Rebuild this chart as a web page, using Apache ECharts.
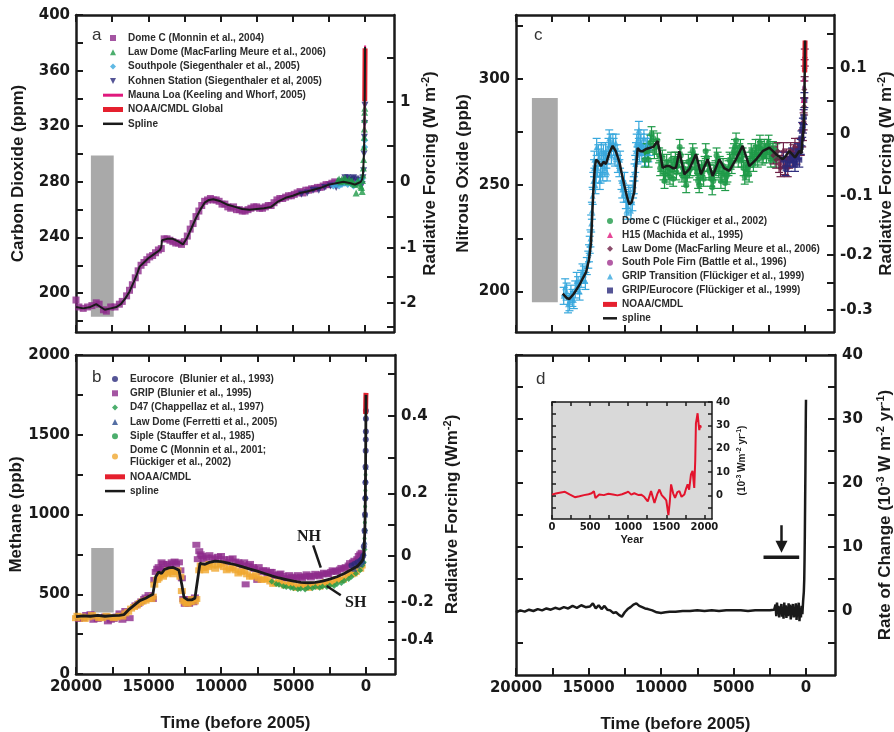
<!DOCTYPE html>
<html><head><meta charset="utf-8">
<script src="https://cdn.jsdelivr.net/npm/echarts@6/dist/echarts.min.js"></script>
<style>html,body{margin:0;padding:0;background:#fff}#c{width:894px;height:732px}</style>
</head><body><div id="c"></div>
<script>
// ---------- tick labels ----------
const timeTicks=[0,2500,5000,7500,10000,12500,15000,17500,20000];
const timeLabels=[0,5000,10000,15000,20000];
const co2Ticks=[180,200,220,240,260,280,300,320,340,360,380,400];
const co2Labels=[200,240,280,320,360,400];
const co2RfLabels=['-2','-1','0','1'];
const co2RfLabelPpm=[192.7,232.3,280,337.5];
const co2RfTickPpm=[175.5,192.7,211.7,232.3,255.1,280,306.2,337.5,369.0];
const ch4Ticks=[0,250,500,750,1000,1250,1500,1750,2000];
const ch4Labels=[0,500,1000,1500,2000];
const ch4RfLabels=['-0.4','-0.2','0','0.2','0.4'];
const ch4RfLabelPpb=[214,453,742,1132,1616];
const ch4RfTickPpb=[94,214,327,453,585,742,937,1132,1358,1616,1880];
const n2oTicks=[200,225,250,275,300,325];
const n2oLabels=[200,250,300];
const n2oRfLabels=['-0.3','-0.2','-0.1','0','0.1'];
const n2oRfLabelPpb=[191.3,217.3,244.9,274.2,305.1];
const n2oRfTickPpb=[191.3,204.1,217.3,230.9,244.9,259.3,274.2,289.5,305.1,321.2];
const rateTicks=[-5,0,5,10,15,20,25,30,35,40];
const rateLabels=[0,10,20,30,40];
const insetYearTicks=[0,250,500,750,1000,1250,1500,1750,2000];
const insetYearLabels=[0,500,1000,1500,2000];
const insetRateTicks=[-5,0,5,10,15,20,25,30,35,40];
const insetRateLabels=[0,10,20,30,40];

// ---------- panel a : CO2 ----------
const co2Range=[[18970,17390,183,299]];
const co2DomeC=[[20000,195],[19800,190],[19500,189],[19200,190],[18900,191],[18600,193],[18400,192],[18100,188],[17900,187],[17600,190],[17300,190],[17000,192],[16800,194],[16500,198],[16300,202],[16100,206],[15900,211],[15700,216],[15500,220],[15300,222],[15100,224],[14900,226],[14700,227],[14500,229],[14300,231],[14100,232],[13900,239],[13700,239],[13500,238],[13300,237],[13100,236],[12900,236],[12700,235],[12500,237],[12300,241],[12100,246],[11900,250],[11700,255],[11500,259],[11300,263],[11100,266],[10900,267],[10700,268],[10500,267],[10300,267],[10100,266],[9900,264],[9700,264],[9500,262],[9300,261],[9100,262],[8900,260],[8700,260],[8500,259],[8300,259],[8100,260],[7900,261],[7700,262],[7500,262],[7300,261],[7100,261],[6900,262],[6700,263],[6500,263],[6300,265],[6100,267],[5900,268],[5700,268],[5500,269],[5300,270],[5100,270],[4900,271],[4700,272],[4500,273],[4300,272],[4100,274],[3900,274],[3700,275],[3500,275],[3300,276],[3100,276],[2900,277],[2700,278],[2500,278],[2300,279],[2100,280],[1900,279],[1700,280],[1500,280],[1300,281],[1100,281],[900,280],[700,280]];
const co2LawDome=[[1900,281],[1800,282],[1700,280],[1600,282],[1500,281],[1400,283],[1300,281],[1200,280],[1100,282],[1000,280],[900,281],[800,279],[700,278],[620,272],[500,281],[400,279],[300,277],[250,276],[200,273],[180,281],[150,285],[120,290],[100,296],[80,305],[60,312],[50,318],[40,325],[30,330],[20,333]];
const co2SouthPole=[[2200,277],[2000,278],[1800,277],[1600,278],[1400,279],[1200,278],[1000,279],[800,277],[600,279],[400,280],[200,282],[30,305],[20,310]];
const co2Kohnen=[[4400,271],[4000,272],[3600,274],[3200,274],[2800,276],[2400,277],[2000,276],[1600,279],[1400,283],[1200,283],[1000,282],[900,281],[800,283],[600,282],[500,279],[400,281],[300,280],[200,278],[150,283],[100,288],[70,300],[50,312],[30,322],[10,335]];
const co2MaunaLoa=[[47,315],[40,320],[35,325],[30,331],[25,338],[20,346],[15,354],[10,361],[5,370],[0,378]];
const co2Noaa=[[25,338],[20,345],[15,354],[10,361],[5,368],[0,376]];
const co2Spline=[[20000,190],[19500,189],[19000,190],[18600,192],[18300,190],[18000,188],[17600,189],[17200,190],[16900,192],[16600,196],[16300,201],[16000,208],[15800,213],[15600,219],[15300,222],[15000,225],[14600,228],[14200,231],[14100,233],[14050,238],[13700,239],[13300,239],[12900,237],[12600,235],[12300,240],[12000,247],[11700,254],[11400,260],[11100,265],[10800,267],[10500,267.5],[10000,266],[9500,263.5],[9000,262],[8500,260.5],[8000,260],[7500,260.5],[7000,261],[6500,262],[6000,266],[5500,268.5],[5000,270],[4500,272],[4000,273],[3500,274.5],[3000,276],[2500,278],[2000,279],[1500,280],[1000,279],[700,278],[500,279],[300,280],[200,282],[150,285],[100,295],[80,300],[60,310],[50,315],[40,325],[30,335],[20,345],[10,360],[0,377]];

// ---------- panel b : CH4 ----------
const ch4Range=[[18950,17400,385,790]];
const ch4Grip=[[19800,345],[19500,350],[19300,370],[19000,375],[18800,340],[18500,345],[18300,355],[18000,360],[17800,330],[17600,340],[17400,345],[17200,360],[17000,380],[16800,340],[16600,395],[16300,350],[15900,430],[15700,440],[15500,455],[15300,470],[15200,480],[15000,495],[14800,480],[14700,470],[14600,590],[14500,640],[14400,660],[14300,670],[14200,650],[14100,700],[14000,690],[13900,660],[13700,690],[13500,680],[13400,700],[13200,705],[13100,690],[12900,700],[12800,650],[12700,600],[12600,470],[12500,440],[12400,455],[12300,470],[12200,440],[12100,455],[12000,460],[11900,450],[11800,480],[11700,810],[11600,720],[11500,770],[11400,750],[11300,740],[11200,720],[11000,730],[10800,745],[10600,730],[10400,720],[10200,735],[10000,740],[9800,720],[9600,700],[9400,720],[9200,725],[9000,705],[8800,700],[8700,690],[8500,680],[8400,700],[8300,562],[8100,680],[8000,690],[7800,670],[7700,660],[7500,590],[7400,670],[7200,640],[7100,650],[6900,650],[6800,630],[6600,640],[6500,640],[6300,620],[6200,615],[6000,625],[5900,630],[5700,615],[5600,600],[5400,600],[5300,620],[5100,610],[5000,600],[4800,605],[4700,620],[4500,610],[4400,600],[4200,612],[4100,625],[3900,615],[3800,605],[3600,615],[3500,628],[3300,620],[3200,612],[3000,625],[2900,635],[2700,630],[2600,625],[2400,640],[2300,650],[2100,645],[2000,640],[1800,655],[1700,665],[1500,660],[1400,670],[1200,680],[1100,695],[900,700],[800,710],[600,720],[500,740],[400,750],[300,760]];
const ch4DomeC=[[20000,350],[19900,365],[19600,360],[19400,345],[19200,355],[18900,370],[18700,360],[18400,350],[18200,350],[17900,365],[17700,358],[17400,350],[17200,355],[17000,365],[16800,360],[16600,380],[16400,390],[16200,410],[16000,420],[15800,430],[15600,445],[15400,455],[15200,460],[15000,470],[14800,470],[14700,485],[14600,560],[14400,590],[14300,600],[14200,620],[14000,610],[13900,625],[13700,630],[13600,650],[13400,640],[13300,625],[13100,640],[13000,650],[12800,610],[12700,520],[12600,460],[12500,455],[12400,445],[12300,440],[12100,450],[12000,470],[11800,455],[11700,470],[11500,650],[11400,680],[11200,665],[11100,650],[10900,670],[10800,690],[10600,680],[10400,660],[10200,680],[10000,690],[9800,670],[9600,650],[9400,660],[9200,665],[9000,650],[8800,630],[8600,640],[8400,645],[8200,625],[8000,610],[7800,612],[7600,620],[7400,600],[7200,590],[7000,592],[6800,595],[6600,580],[6400,565],[6200,570],[6000,580],[5800,565],[5600,555],[5400,558],[5200,565],[5000,552],[4800,540],[4600,548],[4400,555],[4200,548],[4000,540],[3800,550],[3600,560],[3400,555],[3200,548],[3000,560],[2800,575],[2600,570],[2400,565],[2200,580],[2000,595],[1800,590],[1600,590],[1400,605],[1200,625],[1000,625],[850,630],[700,640],[550,660],[400,660],[300,680]];
const ch4D47=[[6500,580],[6200,565],[6000,560],[5700,550],[5500,545],[5200,540],[5000,538],[4700,532],[4500,535],[4200,530],[4000,540],[3700,538],[3500,545],[3200,540],[3000,548],[2700,545],[2500,555],[2200,552],[2000,565],[1700,570],[1500,585],[1200,595],[1000,610],[700,630],[400,650],[250,680],[150,700],[100,780],[60,900],[30,1100]];
const ch4Siple=[[200,700],[150,750],[100,850],[80,950],[60,1050],[40,1150],[30,1250]];
const ch4LawDome=[[800,660],[600,680],[400,690],[300,700],[200,710],[150,760],[100,830],[80,900],[60,1000],[40,1120],[30,1220],[20,1300]];
const ch4Eurocore=[[1000,680],[800,690],[600,700],[400,710],[300,720],[200,740],[150,800],[100,900],[70,1000],[50,1100],[40,1200],[30,1300],[20,1400],[15,1470],[10,1520],[8,1600],[5,1650]];
const ch4Noaa=[[25,1630],[20,1680],[15,1710],[10,1735],[5,1750],[0,1762]];
const ch4Spline=[[20000,360],[19500,365],[19000,362],[18500,368],[18000,362],[17500,366],[17000,368],[16700,372],[16400,400],[16000,430],[15600,460],[15200,475],[14900,490],[14700,500],[14500,610],[14300,640],[14100,630],[13900,655],[13600,665],[13300,668],[13100,660],[12900,650],[12700,560],[12550,480],[12300,465],[12000,465],[11800,475],[11600,600],[11450,695],[11300,690],[11100,688],[10800,700],[10400,708],[10000,705],[9500,695],[9000,685],[8500,672],[8000,658],[7500,645],[7000,630],[6500,615],[6000,602],[5500,592],[5000,582],[4500,575],[4000,572],[3500,575],[3000,582],[2500,595],[2000,610],[1500,630],[1000,655],[600,675],[300,705],[200,720],[150,760],[100,850],[80,900],[60,1000],[40,1150],[25,1350],[15,1500],[8,1620],[0,1750]];
const ch4NoteText=['NH','SH'];
const ch4NoteAt=[[3930,862],[710,448]];
const ch4Leaders=[[3640,806,3120,667],[2710,552,1740,494]];

// ---------- panel c : N2O ----------
const n2oRange=[[18900,17110,195,291]];
const n2oGripTrans=[[16700,198],[16600,202],[16500,200],[16400,194],[16300,195],[16200,199],[16100,197],[16000,196],[15900,201],[15800,205],[15700,203],[15600,200],[15500,206],[15400,209],[15300,208],[15200,205],[15100,212],[15000,215],[14950,218],[14900,222],[14850,225],[14800,232],[14750,238],[14700,245],[14650,252],[14600,258],[14580,262],[14500,250],[14450,255],[14420,268],[14350,258],[14300,265],[14250,263],[14200,252],[14150,255],[14100,266],[14050,260],[14000,256],[13950,265],[13900,262],[13850,258],[13800,266],[13750,262],[13700,256],[13600,268],[13550,272],[13450,270],[13400,264],[13300,270],[13250,268],[13150,263],[13100,270],[13000,265],[12950,260],[12850,258],[12800,262],[12700,252],[12650,248],[12550,246],[12500,252],[12400,243],[12350,238],[12250,240],[12200,246],[12100,245],[12050,238],[11950,242],[11900,248],[11850,250],[11800,256],[11750,260],[11700,266],[11650,270],[11600,264],[11550,272],[11500,276],[11450,265],[11400,270],[11350,270],[11300,265],[11200,268],[11150,272],[11050,263],[11000,268],[10900,270],[10850,265],[10750,268]];
const n2oDomeC=[[11100,262],[11025,266],[10900,266],[10825,262],[10700,270],[10625,274],[10500,272],[10425,266],[10300,268],[10225,271],[10100,264],[10025,258],[9950,260],[9875,263],[9800,256],[9725,252],[9650,255],[9575,261],[9500,258],[9425,256],[9350,254],[9275,262],[9200,257],[9125,253],[9050,260],[8975,262],[8900,256],[8825,259],[8750,262],[8675,268],[8600,264],[8525,255],[8450,258],[8375,257],[8300,253],[8225,250],[8150,255],[8075,261],[8000,257],[7925,258],[7850,262],[7775,266],[7700,264],[7625,261],[7550,258],[7475,256],[7400,252],[7325,250],[7250,254],[7175,258],[7100,256],[7025,253],[6950,260],[6875,266],[6800,263],[6725,260],[6650,257],[6575,256],[6500,253],[6425,249],[6350,252],[6275,256],[6200,258],[6125,264],[6050,262],[5975,257],[5900,260],[5825,252],[5750,255],[5675,259],[5600,256],[5525,251],[5450,254],[5375,255],[5300,258],[5225,262],[5150,261],[5075,259],[5000,264],[4925,266],[4850,268],[4775,271],[4700,265],[4625,262],[4550,266],[4475,268],[4400,262],[4325,264],[4250,258],[4175,254],[4100,256],[4025,260],[3950,258],[3875,255],[3800,262],[3725,266],[3650,264],[3575,260],[3500,263],[3425,268],[3350,265],[3275,262],[3200,268],[3125,270],[3050,267],[2975,263],[2900,264],[2825,268],[2750,266],[2675,264],[2600,268],[2525,270],[2450,266],[2375,262],[2300,265],[2225,267],[2150,264],[2075,262],[2000,266]];
const n2oLawDome=[[2200,264],[2000,262],[1900,266],[1800,260],[1700,258],[1600,262],[1500,266],[1400,259],[1300,263],[1200,258],[1100,262],[1000,266],[900,263],[800,265],[700,268],[600,264],[500,266],[400,268],[300,268],[200,272],[150,275],[100,280],[70,287],[50,295],[30,305],[20,310]];
const n2oEurocore=[[1500,262],[1350,258],[1200,260],[1050,262],[900,264],[800,262],[700,260],[600,263],[500,266],[400,262],[300,268],[250,272],[200,276],[150,278],[100,282],[50,290]];
const n2oSouthPole=[[120,285],[90,290],[70,296],[50,300],[40,304],[30,306],[20,310],[10,312]];
const n2oH15=[[100,290],[60,300],[40,305],[20,310]];
const n2oNoaa=[[25,303],[15,310],[5,316],[0,318]];
const n2oSpline=[[16770,199],[16500,197],[16310,196.5],[16000,199],[15620,203],[15400,206],[15160,209],[14950,215],[14810,223],[14700,240],[14650,247],[14550,258],[14465,262],[14300,261],[14120,259],[13950,261],[13774,260],[13550,265],[13313,268.5],[13100,266],[12850,261],[12700,256],[12506,250],[12300,244],[12160,241],[12000,242],[11814,247],[11700,258],[11583,267.5],[11400,266],[11237,266],[11000,267],[10776,267.5],[10500,268],[10200,270.8],[10000,264],[9854,258.2],[9600,259],[9392,259],[9150,258],[8930,258.2],[8700,266],[8355,255.1],[8010,257.5],[7550,264.6],[7200,255.1],[6740,262.2],[6395,254.3],[5933,262.2],[5600,258],[5240,256.7],[4800,262],[4320,268.5],[3860,259],[3400,262],[2936,266],[2474,267.7],[2013,264.6],[1550,262.2],[1300,264],[1090,266.1],[700,263],[400,266.1],[250,265],[170,272.4],[120,275],[80,280],[50,290],[30,300],[15,310],[0,318]];
const n2oErr={gripTrans:4,domeC:3.5,lawDome:4,eurocore:3.5};

// ---------- panel d : rate of change ----------
const rateMain=[[20000,-0.2],[19700,0.1],[19400,-0.1],[19100,0.2],[18800,0],[18500,0.3],[18200,0.1],[17900,0.4],[17600,0.2],[17300,0.5],[17000,0.3],[16700,0.6],[16400,0.4],[16100,0.8],[15800,0.5],[15500,0.9],[15200,0.6],[14900,0.7],[14700,1.2],[14500,0.4],[14300,0.9],[14100,0.3],[13900,0.8],[13700,0.2],[13500,0.1],[13300,-0.3],[13100,-0.2],[12900,-0.6],[12700,-0.9],[12500,-0.2],[12300,0.3],[12100,0.6],[11900,1],[11700,1.2],[11500,0.8],[11300,0.6],[11100,0.4],[10900,0.3],[10600,0.1],[10300,-0.2],[10000,-0.3],[9700,-0.2],[9400,-0.1],[9000,-0.1],[8500,0],[8000,0],[7500,0.1],[7000,0],[6500,0.1],[6000,0],[5500,0.1],[5000,0.1],[4500,0.1],[4000,0],[3500,0.1],[3000,0.1],[2500,0.1],[2200,0.2],[2100,1],[2050,-0.8],[2000,1.3],[1950,-0.5],[1900,0.8],[1850,-1],[1800,0.6],[1750,-0.4],[1700,1.1],[1650,-0.9],[1600,0.5],[1550,-1.2],[1500,1.3],[1450,-0.6],[1400,0.9],[1350,-1.1],[1300,0.7],[1250,-0.8],[1200,1.2],[1150,-0.7],[1100,1],[1050,-1.3],[1000,0.8],[950,-0.5],[900,1.1],[850,-1],[800,0.6],[750,-0.9],[700,1.2],[650,-1.4],[600,0.9],[550,-0.6],[500,1.3],[450,-1.6],[400,0.5],[350,-1],[300,0.8],[250,-0.5],[200,1.5],[150,3],[120,5],[100,8],[80,12],[60,17],[40,22],[25,27],[10,31],[0,33]];
const rateArrow=[[1690,13.4,1690,9.1]];
const rateBar=[[2930,8.4,470,8.4]];
const insetRate=[[0,0.4],[50,0.9],[100,1.2],[170,1.6],[230,0.5],[300,-0.7],[360,-0.3],[420,0.2],[480,0.6],[520,1.0],[550,1.9],[570,-1],[620,0.5],[680,0.2],[740,0.8],[800,0.5],[860,0.1],[920,0.6],[970,1.2],[1000,1.7],[1040,0.4],[1080,1.0],[1130,0.3],[1170,0.4],[1210,-0.5],[1257,-2.5],[1300,1.9],[1345,-3.1],[1380,0.5],[1410,2.6],[1440,0.2],[1475,-1],[1500,-2],[1528,-8.3],[1545,-3],[1563,4.8],[1590,1],[1615,-1],[1645,1.5],[1672,1.9],[1700,-0.5],[1737,0.5],[1760,3],[1780,4.8],[1800,2.5],[1824,9.1],[1845,10.6],[1867,3.3],[1880,15],[1889,30.9],[1900,33],[1911,35.2],[1920,32],[1933,28],[1945,30],[1955,29]];

// ---------- styling ----------
const INK='#1a1a1a', NUM='DejaVu Sans', TXT='Liberation Sans';
const C={purple:'#8d2a8b',green:'#1f9a48',cyan:'#38a8dd',navy:'#2b2a7c',magenta:'#e0197d',red:'#e5202e',orange:'#f0a830',blueTri:'#2a4b8d',maroon:'#6e2147',spPurple:'#a0338f',gray:'#a9a9a9',insetBg:'#d9d9d9',insetRed:'#e3142d'};
const SQ='path://M0,0L10,0L10,10L0,10Z', TRI='path://M5,0L10,10L0,10Z', ITRI='path://M0,0L10,0L5,10Z', DIA='path://M5,0L10,5L5,10L0,5Z';
const supRich={sup:{fontFamily:TXT,fontWeight:'bold',fontSize:11,color:INK,padding:[0,0,9,0]}};
const nameStyle={fontFamily:TXT,fontWeight:'bold',fontSize:17,color:INK,rich:supRich};

function lookup(pos,lab){return v=>{let b=0;for(let i=0;i<pos.length;i++){if(Math.abs(pos[i]-v)<Math.abs(pos[b]-v))b=i;}return lab[b];};}
function axis(o){
  return {type:'value',gridIndex:o.g,position:o.pos,min:o.min,max:o.max,inverse:!!o.inverse,
    splitLine:{show:false},
    axisLine:{show:true,onZero:false,lineStyle:{color:INK,width:o.lw||2.5}},
    axisTick:{show:true,inside:true,length:o.tl||7,customValues:o.ticks,lineStyle:{color:INK,width:o.tw||2}},
    axisLabel:o.labels?{show:true,customValues:o.labels,formatter:o.fmt||(v=>String(v)),fontFamily:NUM,fontWeight:'bold',fontSize:o.fs||15,color:INK,margin:o.margin||6}:{show:false},
    name:o.name||'',nameLocation:'middle',nameRotate:o.nameRotate,nameGap:o.nameGap||0,nameTextStyle:o.nts||nameStyle};
}
function timeAxis(g,pos,labels,name){return axis({g,pos,min:-2000,max:20000,inverse:true,ticks:timeTicks,labels:labels?timeLabels:null,name:name?'Time (before 2005)':'',nameGap:41,nameRotate:0});}

const xAxis=[
  timeAxis(0,'bottom',false,false), timeAxis(0,'top',false,false),
  timeAxis(1,'bottom',true,true), timeAxis(1,'top',false,false),
  timeAxis(2,'bottom',false,false), timeAxis(2,'top',false,false),
  timeAxis(3,'bottom',true,true), timeAxis(3,'top',false,false),
  axis({g:4,pos:'bottom',min:0,max:2100,ticks:insetYearTicks,labels:insetYearLabels,fs:10,margin:3,lw:1.5,tl:4,tw:1.5,name:'Year',nameGap:15,nameRotate:0,nts:{fontFamily:TXT,fontWeight:'bold',fontSize:11,color:INK}}),
  axis({g:4,pos:'top',min:0,max:2100,ticks:insetYearTicks,lw:1.5,tl:4,tw:1.5})
];
const yAxis=[
  axis({g:0,pos:'left',min:172,max:400,ticks:co2Ticks,labels:co2Labels,name:'Carbon Dioxide (ppm)',nameGap:49,nameRotate:90}),
  axis({g:0,pos:'right',min:172,max:400,ticks:co2RfTickPpm,labels:co2RfLabelPpm,fmt:lookup(co2RfLabelPpm,co2RfLabels),name:'Radiative Forcing (W m{sup|-2})',nameGap:25,nameRotate:90}),
  axis({g:1,pos:'left',min:0,max:2000,ticks:ch4Ticks,labels:ch4Labels,name:'Methane (ppb)',nameGap:46,nameRotate:90}),
  axis({g:1,pos:'right',min:0,max:2000,ticks:ch4RfTickPpb,labels:ch4RfLabelPpb,fmt:lookup(ch4RfLabelPpb,ch4RfLabels),name:'Radiative Forcing (Wm{sup|-2})',nameGap:47,nameRotate:90}),
  axis({g:2,pos:'left',min:181,max:330,ticks:n2oTicks,labels:n2oLabels,name:'Nitrous Oxide (ppb)',nameGap:44,nameRotate:90}),
  axis({g:2,pos:'right',min:181,max:330,ticks:n2oRfTickPpb,labels:n2oRfLabelPpb,fmt:lookup(n2oRfLabelPpb,n2oRfLabels),name:'Radiative Forcing (W m{sup|-2})',nameGap:40,nameRotate:90}),
  axis({g:3,pos:'left',min:-10,max:40,ticks:rateTicks}),
  axis({g:3,pos:'right',min:-10,max:40,ticks:rateTicks,labels:rateLabels,margin:7,name:'Rate of Change (10{sup|-3} W m{sup|-2} yr{sup|-1})',nameGap:40,nameRotate:90}),
  axis({g:4,pos:'left',min:-10,max:40,ticks:insetRateTicks,lw:1.5,tl:4,tw:1.5}),
  axis({g:4,pos:'right',min:-10,max:40,ticks:insetRateTicks,labels:insetRateLabels,fs:10,margin:4,lw:1.5,tl:4,tw:1.5,name:'(10{sup|-3} Wm{sup|-2} yr{sup|-1})',nameGap:24,nameRotate:90,nts:{fontFamily:TXT,fontWeight:'bold',fontSize:10,color:INK,rich:{sup:{fontFamily:TXT,fontWeight:'bold',fontSize:7,color:INK,padding:[0,0,6,0]}}}})
];

// ---------- series helpers ----------
function rectRender(color){return (p,api)=>{const a=api.coord([api.value(0),api.value(2)]),b=api.coord([api.value(1),api.value(3)]);return {type:'rect',shape:{x:Math.min(a[0],b[0]),y:Math.min(a[1],b[1]),width:Math.abs(b[0]-a[0]),height:Math.abs(b[1]-a[1])},style:{fill:color}};};}
function errRender(err,color){return (p,api)=>{const t=api.value(0),v=api.value(1);const hi=api.coord([t,v+err]),lo=api.coord([t,v-err]);const w=4;const st={stroke:color,lineWidth:1.2};return {type:'group',children:[
  {type:'line',shape:{x1:hi[0],y1:hi[1],x2:lo[0],y2:lo[1]},style:st},
  {type:'line',shape:{x1:hi[0]-w,y1:hi[1],x2:hi[0]+w,y2:hi[1]},style:st},
  {type:'line',shape:{x1:lo[0]-w,y1:lo[1],x2:lo[0]+w,y2:lo[1]},style:st}]};};}
function segRender(width){return (p,api)=>{const a=api.coord([api.value(0),api.value(1)]),b=api.coord([api.value(2),api.value(3)]);return {type:'line',shape:{x1:a[0],y1:a[1],x2:b[0],y2:b[1]},style:{stroke:INK,lineWidth:width}};};}
function arrowRender(p,api){const a=api.coord([api.value(0),api.value(1)]),t=api.coord([api.value(2),api.value(3)]);const h=12,hw=6;return {type:'group',children:[
  {type:'line',shape:{x1:a[0],y1:a[1],x2:t[0],y2:t[1]-h+1},style:{stroke:INK,lineWidth:2.5}},
  {type:'polygon',shape:{points:[[t[0],t[1]],[t[0]-hw,t[1]-h],[t[0]+hw,t[1]-h]]},style:{fill:INK}}]};}
function textRender(p,api){const a=api.coord([api.value(0),api.value(1)]);return {type:'text',x:a[0],y:a[1],style:{text:ch4NoteText[p.dataIndex],font:'bold 16px "Liberation Serif"',fill:INK,align:'center',verticalAlign:'middle',textAlign:'center',textVerticalAlign:'middle'}};}

function custom(xi,yi,data,render,z){return {type:'custom',xAxisIndex:xi,yAxisIndex:yi,data,renderItem:render,z:z||1,silent:true,clip:true};}
function scatter(name,xi,yi,data,symbol,size,color,z){return {type:'scatter',name,xAxisIndex:xi,yAxisIndex:yi,data,symbol,symbolSize:size,itemStyle:{color},z:z||2,silent:true,clip:true};}
function line(name,xi,yi,data,color,width,z){return {type:'line',name,xAxisIndex:xi,yAxisIndex:yi,data,showSymbol:false,symbol:'none',lineStyle:{color,width},itemStyle:{color},z:z||3,silent:true,clip:true};}

const N={a1:'Dome C (Monnin et al., 2004)',a2:'Law Dome (MacFarling Meure et al., 2006)',a3:'Southpole (Siegenthaler et al., 2005)',a4:'Kohnen Station (Siegenthaler et al, 2005)',a5:'Mauna Loa (Keeling and Whorf, 2005)',a6:'NOAA/CMDL Global',a7:'Spline',
 b1:'Eurocore  (Blunier et al., 1993)',b2:'GRIP (Blunier et al., 1995)',b3:'D47 (Chappellaz et al., 1997)',b4:'Law Dome (Ferretti et al., 2005)',b5:'Siple (Stauffer et al., 1985)',b6:'Dome C (Monnin et al., 2001;\nFlückiger et al., 2002)',b7:'NOAA/CMDL',b8:'spline',
 c1:'Dome C (Flückiger et al., 2002)',c2:'H15 (Machida et al., 1995)',c3:'Law Dome (MacFarling Meure et al., 2006)',c4:'South Pole Firn (Battle et al., 1996)',c5:'GRIP Transition (Flückiger et al., 1999)',c6:'GRIP/Eurocore (Flückiger et al., 1999)',c7:'NOAA/CMDL',c8:'spline'};

const series=[
  custom(0,0,co2Range,rectRender(C.gray),1),
  scatter(N.a1,0,0,co2DomeC,'rect',7,C.purple),
  scatter(N.a4,0,0,co2Kohnen,ITRI,7,C.navy),
  scatter(N.a3,0,0,co2SouthPole,DIA,7,C.cyan),
  scatter(N.a2,0,0,co2LawDome,TRI,7,C.green),
  line(N.a5,0,0,co2MaunaLoa,C.magenta,2),
  line(N.a6,0,0,co2Noaa,C.red,5),
  line(N.a7,0,0,co2Spline,INK,2,5),

  custom(2,2,ch4Range,rectRender(C.gray),1),
  scatter(N.b2,2,2,ch4Grip,'rect',[8,6],C.purple),
  scatter(N.b6,2,2,ch4DomeC,'rect',[8,6],C.orange),
  scatter(N.b3,2,2,ch4D47,DIA,6,C.green),
  scatter(N.b5,2,2,ch4Siple,'circle',4,C.green),
  scatter(N.b4,2,2,ch4LawDome,TRI,6,C.blueTri),
  scatter(N.b1,2,2,ch4Eurocore,'circle',6,C.navy),
  line(N.b7,2,2,ch4Noaa,C.red,5),
  line(N.b8,2,2,ch4Spline,INK,2.8,5),
  custom(2,2,ch4Leaders,segRender(2.5),6),
  custom(2,2,ch4NoteAt,textRender,6),

  custom(4,4,n2oRange,rectRender(C.gray),1),
  custom(4,4,n2oGripTrans,errRender(n2oErr.gripTrans,C.cyan),2),
  scatter(N.c5,4,4,n2oGripTrans,TRI,6,C.cyan),
  custom(4,4,n2oDomeC,errRender(n2oErr.domeC,C.green),2),
  scatter(N.c1,4,4,n2oDomeC,'circle',6,C.green),
  custom(4,4,n2oLawDome,errRender(n2oErr.lawDome,C.maroon),2),
  scatter(N.c3,4,4,n2oLawDome,DIA,6,C.maroon),
  custom(4,4,n2oEurocore,errRender(n2oErr.eurocore,C.navy),2),
  scatter(N.c6,4,4,n2oEurocore,SQ,6,C.navy),
  scatter(N.c4,4,4,n2oSouthPole,'circle',4,C.spPurple),
  scatter(N.c2,4,4,n2oH15,TRI,6,C.magenta),
  line(N.c7,4,4,n2oNoaa,C.red,5),
  line(N.c8,4,4,n2oSpline,INK,2.5,5),

  line('rate',6,6,rateMain,INK,2.5,4),
  custom(6,6,rateArrow,arrowRender,5),
  custom(6,6,rateBar,segRender(3.5),5),
  line('inset',8,8,insetRate,C.insetRed,2,4)
];

function lg(name,icon,color){return {name,icon,itemStyle:{color,borderWidth:0}};}
const legTxt={fontFamily:TXT,fontWeight:'bold',fontSize:10,color:'#2b2b2b',lineHeight:12};
const LINE3='path://M0,0L20,0L20,3L0,3Z',LINE5='path://M0,0L20,0L20,5L0,5Z',LINE2='path://M0,0L20,0L20,2.5L0,2.5Z';
const LINE5s='path://M0,0L14,0L14,5L0,5Z',LINE2s='path://M0,0L14,0L14,2.5L0,2.5Z';
const legend=[
  {left:103,top:32,orient:'vertical',padding:0,itemWidth:20,itemHeight:6,itemGap:2.3,selectedMode:false,textStyle:legTxt,
   data:[lg(N.a1,SQ,C.purple),lg(N.a2,TRI,C.green),lg(N.a3,DIA,C.cyan),lg(N.a4,ITRI,C.navy),lg(N.a5,LINE3,C.magenta),lg(N.a6,LINE5,C.red),lg(N.a7,LINE2,INK)]},
  {left:105,top:373,orient:'vertical',padding:0,itemWidth:20,itemHeight:6,itemGap:2.3,selectedMode:false,textStyle:legTxt,
   data:[lg(N.b1,'circle',C.navy),lg(N.b2,SQ,C.purple),lg(N.b3,DIA,C.green),lg(N.b4,TRI,C.blueTri),lg(N.b5,'circle',C.green),lg(N.b6,'circle',C.orange),lg(N.b7,LINE5,C.red),lg(N.b8,LINE2,INK)]},
  {left:603,top:215,orient:'vertical',padding:0,itemWidth:14,itemHeight:6,itemGap:1.9,selectedMode:false,textStyle:legTxt,
   data:[lg(N.c1,'circle',C.green),lg(N.c2,TRI,C.magenta),lg(N.c3,DIA,C.maroon),lg(N.c4,'circle',C.spPurple),lg(N.c5,TRI,C.cyan),lg(N.c6,SQ,C.navy),lg(N.c7,LINE5s,C.red),lg(N.c8,LINE2s,INK)]}
];
const ttl={fontFamily:TXT,fontWeight:'normal',fontSize:17,color:'#333'};
const option={
  animation:false,backgroundColor:'#fff',
  title:[{text:'a',left:92,top:27,padding:0,textStyle:ttl},{text:'b',left:92,top:369,padding:0,textStyle:ttl},{text:'c',left:534,top:27,padding:0,textStyle:ttl},{text:'d',left:536,top:371,padding:0,textStyle:ttl}],
  grid:[
    {left:76,top:15,width:318,height:317,outerBoundsMode:'none'},
    {left:76,top:355,width:319,height:319,outerBoundsMode:'none'},
    {left:516,top:15,width:318,height:317,outerBoundsMode:'none'},
    {left:516,top:355,width:319,height:320,outerBoundsMode:'none'},
    {left:552,top:402,width:160,height:117,show:true,backgroundColor:C.insetBg,borderWidth:0,outerBoundsMode:'none'}
  ],
  xAxis,yAxis,legend,series
};
const chart=echarts.init(document.getElementById('c'),null,{renderer:'canvas',width:894,height:732});
chart.setOption(option);
</script></body></html>
